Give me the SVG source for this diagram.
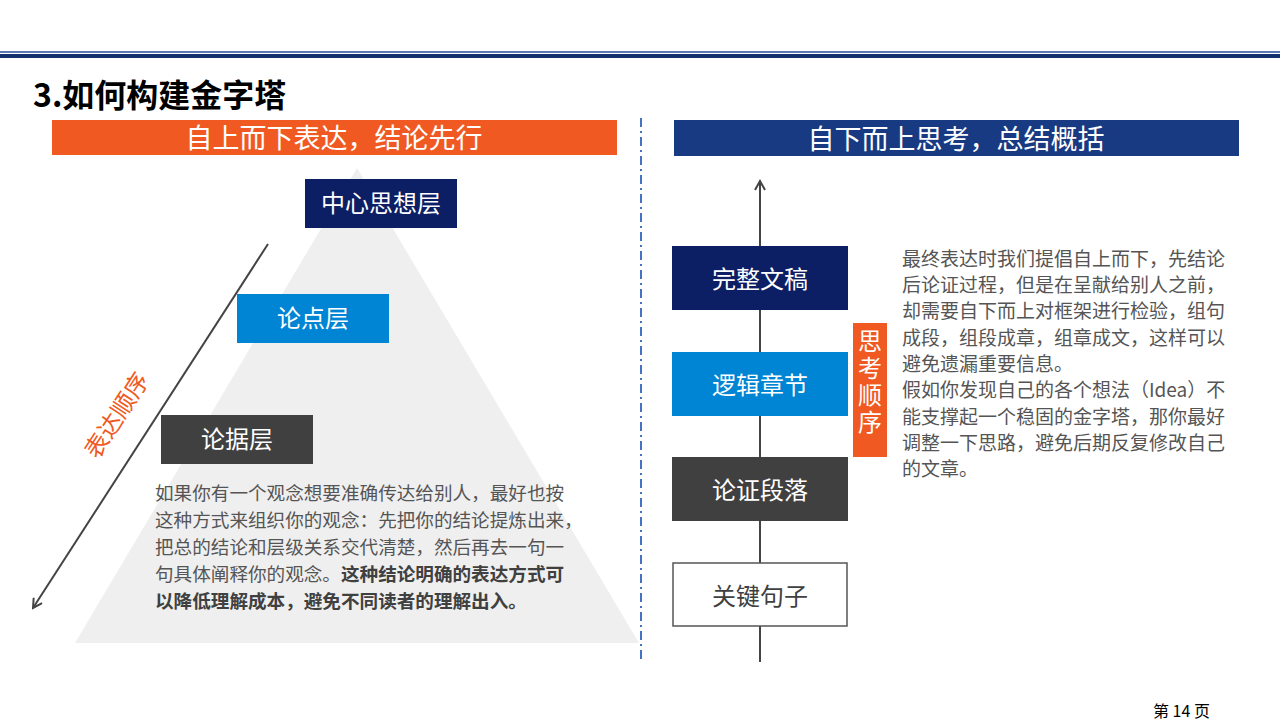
<svg xmlns="http://www.w3.org/2000/svg" width="1280" height="720" viewBox="0 0 1280 720">
<defs>
<style>
.cjk{font-family:"Noto Sans CJK SC","Noto Sans",sans-serif;}
.lbl{font-family:"Noto Sans CJK SC",sans-serif;font-size:24px;fill:#fff;text-anchor:middle;}
.body{font-family:"Noto Sans CJK SC",sans-serif;font-size:18.6px;fill:#555;}
.conn{stroke:#444;stroke-width:2;fill:none;}
</style>
<marker id="open" viewBox="0 0 12 12" refX="10" refY="6" markerWidth="12" markerHeight="12" markerUnits="userSpaceOnUse" orient="auto">
<path d="M1,1 L10,6 L1,11" fill="none" stroke="#444" stroke-width="2"/>
</marker>
</defs>
<rect width="1280" height="720" fill="#fff"/>
<!-- header lines -->
<rect x="0" y="51" width="1280" height="2" fill="#5a78b4"/>
<rect x="0" y="54" width="1280" height="4" fill="#12306e"/>
<text x="33" y="107" class="cjk" font-size="32" font-weight="bold" fill="#000">3.如何构建金字塔</text>
<!-- divider -->
<line x1="641" y1="118" x2="641" y2="662" stroke="#4472c4" stroke-width="2" stroke-dasharray="9,4,2,4"/>
<!-- left banner -->
<g id="banner-left">
<rect x="52" y="120" width="565" height="35" fill="#f05a22"/>
<text x="334" y="148" class="lbl" style="font-size:27px">自上而下表达，结论先行</text>
</g>
<!-- pyramid -->
<polygon points="357,168 75,643 639,643" fill="#efefef"/>
<g id="node-center">
<rect x="305" y="179" width="152" height="49" fill="#0c1e64"/>
<text x="381" y="212" class="lbl">中心思想层</text>
</g>
<g id="node-point">
<rect x="237" y="294" width="152" height="49" fill="#0084d4"/>
<text x="313" y="327" class="lbl">论点层</text>
</g>
<g id="node-evidence">
<rect x="161" y="415" width="152" height="49" fill="#404040"/>
<text x="237" y="448" class="lbl">论据层</text>
</g>
<g id="left-text" class="body">
<text x="155" y="500">如果你有一个观念想要准确传达给别人，最好也按</text>
<text x="155" y="527">这种方式来组织你的观念：先把你的结论提炼出来，</text>
<text x="155" y="554">把总的结论和层级关系交代清楚，然后再去一句一</text>
<text x="155" y="581">句具体阐释你的观念。<tspan font-weight="bold" fill="#404040">这种结论明确的表达方式可</tspan></text>
<text x="155" y="608" font-weight="bold" fill="#404040">以降低理解成本，避免不同读者的理解出入。</text>
</g>
<text class="cjk" font-size="24" fill="#f05a22" text-anchor="middle" transform="translate(124,420) rotate(-57)">表达顺序</text>
<!-- right banner -->
<g id="banner-right">
<rect x="674" y="120" width="565" height="36" fill="#183a82"/>
<text x="956" y="149" class="lbl" style="font-size:27px">自下而上思考，总结概括</text>
</g>
<g id="connectors">
<path d="M268,244 L33,608" class="conn" marker-end="url(#open)"/>
<path d="M760,662 L760,181" class="conn" marker-end="url(#open)"/>
</g>
<g id="node-full">
<rect x="672" y="246" width="176" height="64" fill="#0c1e64"/>
<text x="760" y="288" class="lbl">完整文稿</text>
</g>
<g id="node-logic">
<rect x="672" y="352" width="176" height="64" fill="#0084d4"/>
<text x="760" y="394" class="lbl">逻辑章节</text>
</g>
<g id="node-argue">
<rect x="672" y="457" width="176" height="64" fill="#404040"/>
<text x="760" y="499" class="lbl">论证段落</text>
</g>
<g id="node-key">
<rect x="673" y="563" width="174" height="63" fill="#fff" stroke="#555" stroke-width="1.5"/>
<text x="760" y="605" class="lbl" style="fill:#404040">关键句子</text>
</g>
<g id="node-order">
<rect x="853" y="323" width="34" height="134" fill="#f05a22"/>
<text x="870" y="329" class="cjk" font-size="24" fill="#fff" style="writing-mode:vertical-rl;letter-spacing:3px">思考顺序</text>
</g>
<g id="right-text" class="body" style="font-size:19px">
<text x="902" y="266">最终表达时我们提倡自上而下，先结论</text>
<text x="902" y="292">后论证过程，但是在呈献给别人之前，</text>
<text x="902" y="318">却需要自下而上对框架进行检验，组句</text>
<text x="902" y="345">成段，组段成章，组章成文，这样可以</text>
<text x="902" y="371">避免遗漏重要信息。</text>
<text x="902" y="397">假如你发现自己的各个想法（Idea）不</text>
<text x="902" y="424">能支撑起一个稳固的金字塔，那你最好</text>
<text x="902" y="450">调整一下思路，避免后期反复修改自己</text>
<text x="902" y="476">的文章。</text>
</g>
<text x="1153" y="717" class="cjk" font-size="16" fill="#000">第 14 页</text>
</svg>
